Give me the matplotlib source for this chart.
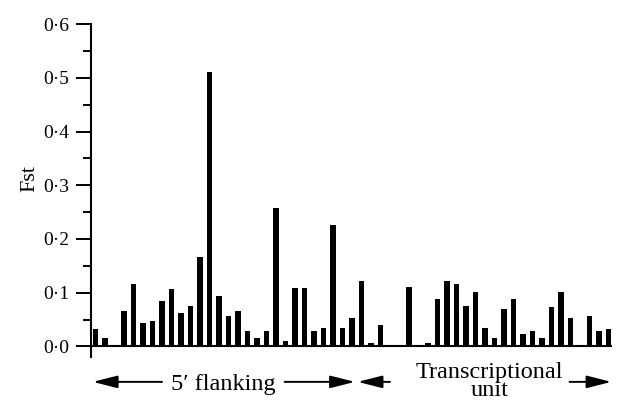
import matplotlib.pyplot as plt

# site index along the gene (gaps = sites not shown) and Fst values
sites = [0, 1, 3, 4, 5, 6, 7, 8, 9, 10, 11, 12, 13, 14, 15, 16, 17, 18, 19, 20,
         21, 22, 23, 24, 25, 26, 27, 28, 29, 30, 33, 35, 36, 37, 38, 39, 40, 41,
         42, 43, 44, 45, 46, 47, 48, 49, 50, 52, 53, 54]
fst = [0.033, 0.016, 0.066, 0.116, 0.043, 0.047, 0.084, 0.106, 0.062, 0.075,
       0.166, 0.510, 0.093, 0.057, 0.066, 0.029, 0.016, 0.029, 0.258, 0.011,
       0.108, 0.108, 0.029, 0.034, 0.226, 0.034, 0.052, 0.121, 0.006, 0.039,
       0.111, 0.006, 0.088, 0.121, 0.116, 0.075, 0.102, 0.034, 0.015, 0.069,
       0.088, 0.024, 0.028, 0.015, 0.074, 0.102, 0.052, 0.057, 0.028, 0.033]
yticks = [0.0, 0.1, 0.2, 0.3, 0.4, 0.5, 0.6]

plt.rcParams['font.family'] = ['Liberation Serif', 'DejaVu Serif']

fig = plt.figure(figsize=(6.18, 4.01), dpi=100)
ax = fig.add_axes([0.147, 0.11, 0.843, 0.83])

ax.bar(sites, fst, width=0.55, color='black')
ax.axhline(0, color='black', lw=1.5)

ax.set_xlim(-0.49, 54.35)
ax.set_ylim(-0.0195, 0.6)
ax.set_yticks(yticks)
ax.set_yticklabels([f"{v:.1f}".replace('.', '·') for v in yticks], fontsize=14)
ax.set_yticks([0.05, 0.15, 0.25, 0.35, 0.45, 0.55], minor=True)
ax.tick_params(axis='y', which='major', length=10.5, width=1.4, pad=5)
ax.tick_params(axis='y', which='minor', length=6, width=1.4)
ax.set_xticks([])
for s in ['top', 'right', 'bottom']:
    ax.spines[s].set_visible(False)
ax.spines['left'].set_linewidth(1.5)
fig.text(30 / 618, 1 - 178 / 401, 'Fst', rotation=90, ha='center', va='center',
         fontsize=16)

# region arrows under the axis
ya = -0.066
arrow = dict(arrowstyle='-|>,head_length=1.5,head_width=0.38', color='black', lw=1.4,
             shrinkA=0, shrinkB=0)
for start, end in [(7.0, -0.28), (19.9, 27.3), (31.0, 27.6), (49.9, 54.3)]:
    ax.annotate('', xy=(end, ya), xytext=(start, ya), arrowprops=arrow,
                annotation_clip=False)
ax.text(13.5, ya - 0.004, '5′ flanking', ha='center', va='center', fontsize=17.5)
ax.text(41.5, ya, 'Transcriptional\nunit', ha='center', va='center',
        fontsize=17.5, linespacing=0.8)

fig.savefig('out.png', dpi=100)
